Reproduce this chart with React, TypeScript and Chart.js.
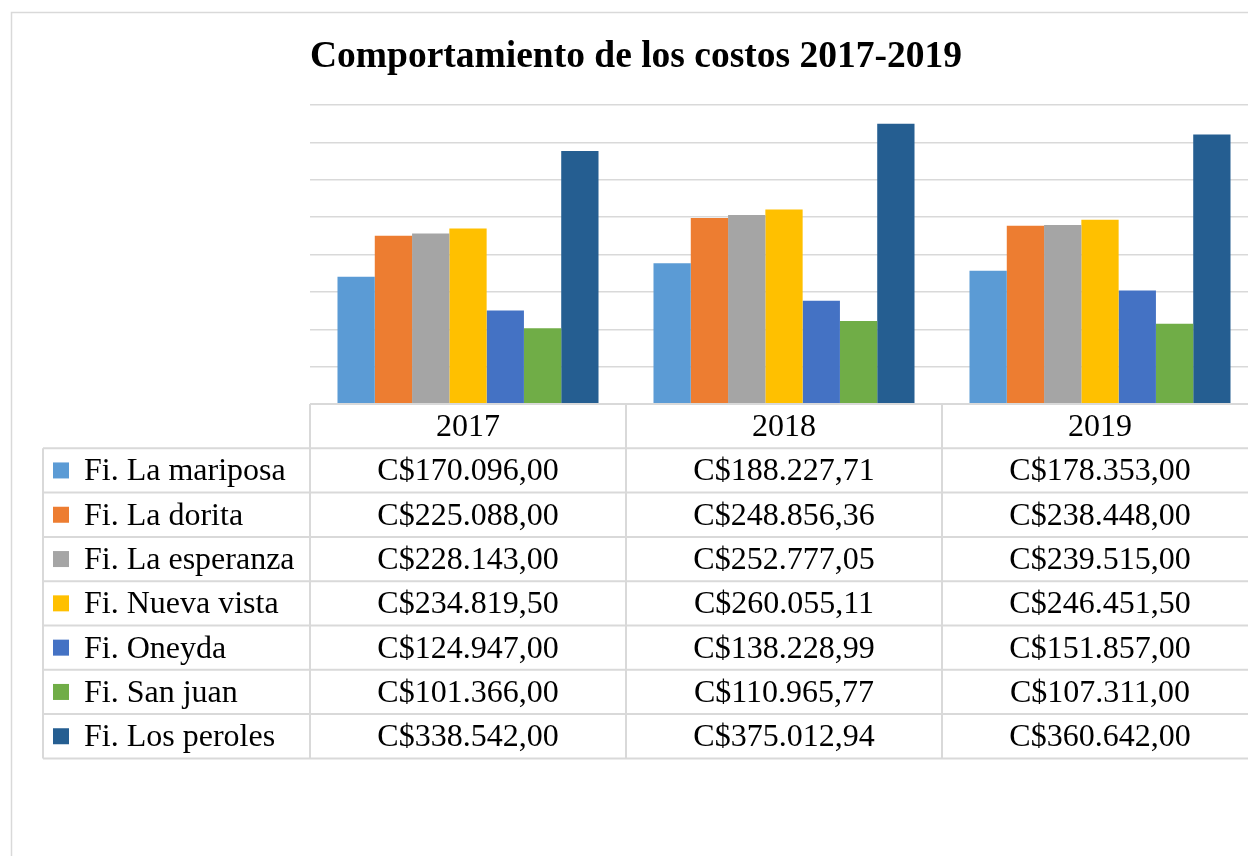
import React, { useEffect, useRef } from 'react';
import { Chart, registerables } from 'chart.js';

Chart.register(...registerables);

const chartTitle = 'Comportamiento de los costos 2017-2019';
const years = ['2017', '2018', '2019'];
const farmNames = [
  'Fi. La mariposa',
  'Fi. La dorita',
  'Fi. La esperanza',
  'Fi. Nueva vista',
  'Fi. Oneyda',
  'Fi. San juan',
  'Fi. Los peroles',
];
const laMariposa = [170096.0, 188227.71, 178353.0];
const laDorita = [225088.0, 248856.36, 238448.0];
const laEsperanza = [228143.0, 252777.05, 239515.0];
const nuevaVista = [234819.5, 260055.11, 246451.5];
const oneyda = [124947.0, 138228.99, 151857.0];
const sanJuan = [101366.0, 110965.77, 107311.0];
const losPeroles = [338542.0, 375012.94, 360642.0];
const seriesValues = [laMariposa, laDorita, laEsperanza, nuevaVista, oneyda, sanJuan, losPeroles];
const seriesColors = ['#5B9BD5', '#ED7D31', '#A5A5A5', '#FFC000', '#4472C4', '#70AD47', '#255E91'];
const yMin = 0;
const yMax = 400000;
const yStep = 50000;

const SERIF = '"Liberation Serif", "Times New Roman", Times, serif';
const CANVAS_W = 1300;
const CANVAS_H = 900;

function formatCurrency(v: number): string {
  const [intPart, dec] = v.toFixed(2).split('.');
  const grouped = intPart.replace(/\B(?=(\d{3})+(?!\d))/g, '.');
  return 'C$' + grouped + ',' + dec;
}

const tablePlugin = {
  id: 'dataTable',
  beforeDraw(chart: any) {
    const ctx = chart.ctx;
    ctx.save();
    ctx.fillStyle = '#ffffff';
    ctx.fillRect(0, 0, chart.width, chart.height);
    ctx.strokeStyle = '#d9d9d9';
    ctx.lineWidth = 1.5;
    ctx.strokeRect(11.5, 12.5, chart.width + 50, chart.height + 50);
    ctx.restore();
  },
  afterDraw(chart: any) {
    const ctx = chart.ctx;
    const area = chart.chartArea;
    const xs = chart.scales.x;
    const n = years.length;
    const centers = years.map((_, i) => xs.getPixelForValue(i));
    const catW = n > 1 ? centers[1] - centers[0] : area.right - area.left;
    const edges = [centers[0] - catW / 2, ...centers.map((c) => c + catW / 2)];
    const rowH = 44.3;
    const top = area.bottom;
    const legendLeft = 43;
    const rows = farmNames.length;
    const bottom = top + (rows + 1) * rowH;

    ctx.save();
    ctx.strokeStyle = '#d9d9d9';
    ctx.lineWidth = 2;
    ctx.beginPath();
    ctx.moveTo(edges[0], top);
    ctx.lineTo(edges[n], top);
    ctx.stroke();
    for (let k = 1; k <= rows + 1; k++) {
      const y = top + k * rowH;
      ctx.beginPath();
      ctx.moveTo(legendLeft, y);
      ctx.lineTo(edges[n], y);
      ctx.stroke();
    }
    ctx.beginPath();
    ctx.moveTo(legendLeft, top + rowH);
    ctx.lineTo(legendLeft, bottom);
    ctx.stroke();
    for (let i = 0; i <= n; i++) {
      ctx.beginPath();
      ctx.moveTo(edges[i], top);
      ctx.lineTo(edges[i], bottom);
      ctx.stroke();
    }

    ctx.fillStyle = '#000000';
    ctx.textBaseline = 'alphabetic';
    ctx.font = '32px ' + SERIF;
    ctx.textAlign = 'center';
    years.forEach((yr, i) => {
      ctx.fillText(yr, centers[i], top + 32);
    });
    for (let r = 0; r < rows; r++) {
      const rowTop = top + (r + 1) * rowH;
      ctx.fillStyle = seriesColors[r];
      ctx.fillRect(53, rowTop + rowH / 2 - 8, 16, 16);
      ctx.fillStyle = '#000000';
      ctx.textAlign = 'left';
      ctx.font = '32px ' + SERIF;
      ctx.fillText(farmNames[r], 84, rowTop + 32);
      ctx.textAlign = 'center';
      seriesValues[r].forEach((v, i) => {
        ctx.fillText(formatCurrency(v), centers[i], rowTop + 32);
      });
    }
    ctx.restore();
  },
};

export default function App() {
  const canvasRef = useRef<HTMLCanvasElement | null>(null);

  useEffect(() => {
    if (!canvasRef.current) return;
    const chart = new Chart(canvasRef.current, {
      type: 'bar',
      data: {
        labels: years,
        datasets: farmNames.map((name, i) => ({
          label: name,
          data: seriesValues[i],
          backgroundColor: seriesColors[i],
          borderWidth: 0,
          barPercentage: 1,
          categoryPercentage: 0.826,
        })),
      },
      options: {
        responsive: false,
        animation: false,
        devicePixelRatio: 1,
        layout: {
          padding: { left: 310, right: CANVAS_W - 1258, top: 35, bottom: CANVAS_H - 404 },
        },
        plugins: {
          legend: { display: false },
          tooltip: { enabled: false },
          title: {
            display: true,
            text: chartTitle,
            align: 'start',
            color: '#000000',
            font: { family: SERIF, size: 37.5, weight: 'bold', lineHeight: 1.2 },
            padding: { top: 0, bottom: 25 },
          },
        },
        scales: {
          x: {
            display: false,
          },
          y: {
            min: yMin,
            max: yMax,
            ticks: { display: false, stepSize: yStep },
            border: { display: false },
            grid: { color: '#d9d9d9', lineWidth: 1.5, drawTicks: false },
          },
        },
      },
      plugins: [tablePlugin],
    });
    return () => chart.destroy();
  }, []);

  return (
    <div style={{ position: 'fixed', left: 0, top: 0, width: 1248, height: 856, overflow: 'hidden', background: '#fff' }}>
      <canvas ref={canvasRef} width={CANVAS_W} height={CANVAS_H} style={{ display: 'block' }} />
    </div>
  );
}
